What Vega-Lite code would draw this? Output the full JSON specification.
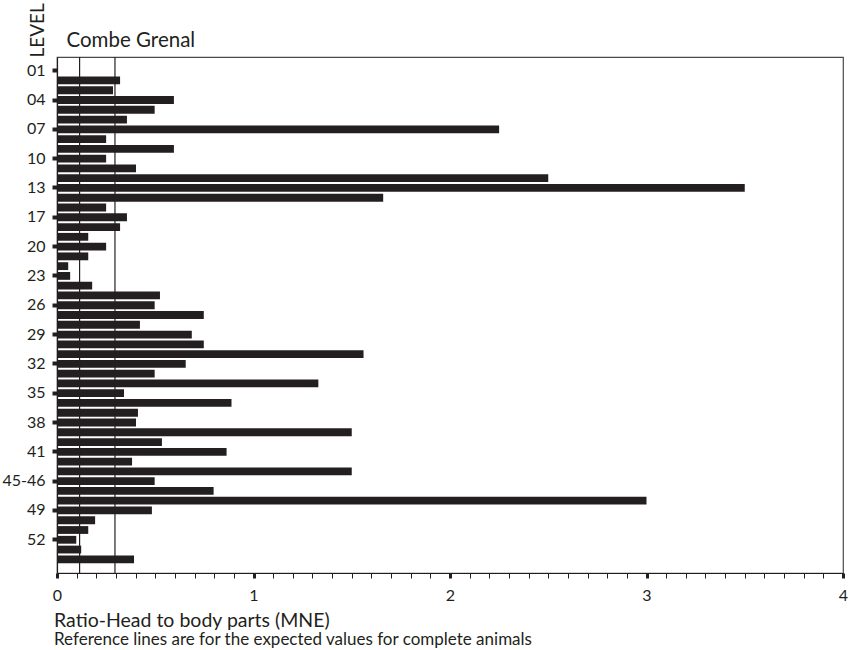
{
  "$schema": "https://vega.github.io/schema/vega-lite/v6.json",
  "width": 786,
  "height": 516,
  "autosize": "none",
  "padding": {"left": 57, "top": 57, "right": 11, "bottom": 77},
  "background": "white",
  "config": {
    "font": "Lato",
    "view": {"stroke": "#4a4a4a", "strokeWidth": 1.2}
  },
  "title": {
    "text": "Ratio-Head to body parts (MNE)",
    "subtitle": "Reference lines are for the expected values for complete animals",
    "orient": "bottom",
    "anchor": "start",
    "frame": "group",
    "fontSize": 19.5,
    "fontWeight": "normal",
    "subtitleFontSize": 17,
    "color": "#231f20",
    "subtitleColor": "#231f20",
    "offset": 9,
    "dx": -3,
    "subtitlePadding": 0
  },
  "datasets": {
    "bars": [
      {"level": "02", "ratio": 0.321},
      {"level": "03", "ratio": 0.285},
      {"level": "04", "ratio": 0.595},
      {"level": "05", "ratio": 0.497},
      {"level": "06", "ratio": 0.356},
      {"level": "07", "ratio": 2.25},
      {"level": "08", "ratio": 0.25},
      {"level": "09", "ratio": 0.595},
      {"level": "10", "ratio": 0.25},
      {"level": "11", "ratio": 0.402},
      {"level": "12", "ratio": 2.5},
      {"level": "13", "ratio": 3.5},
      {"level": "14", "ratio": 1.66},
      {"level": "15-16", "ratio": 0.25},
      {"level": "17", "ratio": 0.356},
      {"level": "18", "ratio": 0.321},
      {"level": "19", "ratio": 0.159},
      {"level": "20", "ratio": 0.25},
      {"level": "21", "ratio": 0.159},
      {"level": "22", "ratio": 0.057},
      {"level": "23", "ratio": 0.067},
      {"level": "24", "ratio": 0.179},
      {"level": "25", "ratio": 0.524},
      {"level": "26", "ratio": 0.497},
      {"level": "27", "ratio": 0.747},
      {"level": "28", "ratio": 0.422},
      {"level": "29", "ratio": 0.686},
      {"level": "30", "ratio": 0.747},
      {"level": "31", "ratio": 1.56},
      {"level": "32", "ratio": 0.655},
      {"level": "33", "ratio": 0.497},
      {"level": "34", "ratio": 1.33},
      {"level": "35", "ratio": 0.341},
      {"level": "36", "ratio": 0.888},
      {"level": "37", "ratio": 0.412},
      {"level": "38", "ratio": 0.402},
      {"level": "39", "ratio": 1.5},
      {"level": "40", "ratio": 0.534},
      {"level": "41", "ratio": 0.863},
      {"level": "42", "ratio": 0.382},
      {"level": "43-44", "ratio": 1.5},
      {"level": "45-46", "ratio": 0.497},
      {"level": "47", "ratio": 0.797},
      {"level": "48", "ratio": 3.0},
      {"level": "49", "ratio": 0.483},
      {"level": "50", "ratio": 0.194},
      {"level": "51", "ratio": 0.159},
      {"level": "52", "ratio": 0.098},
      {"level": "53", "ratio": 0.123},
      {"level": "54", "ratio": 0.392}
    ],
    "refs": [
      {"expected": 0.115},
      {"expected": 0.295}
    ]
  },
  "layer": [
    {
      "data": {"name": "bars"},
      "mark": {"type": "bar", "color": "#231f20"},
      "encoding": {
        "y": {
          "field": "level",
          "type": "ordinal",
          "scale": {
            "domain": ["01","02","03","04","05","06","07","08","09","10","11","12","13","14","15-16","17","18","19","20","21","22","23","24","25","26","27","28","29","30","31","32","33","34","35","36","37","38","39","40","41","42","43-44","45-46","47","48","49","50","51","52","53","54"],
            "paddingInner": 0.2,
            "paddingOuter": 1.42
          },
          "axis": {
            "values": ["01","04","07","10","13","17","20","23","26","29","32","35","38","41","45-46","49","52"],
            "domain": true,
            "domainColor": "#231f20",
            "domainWidth": 1.2,
            "ticks": true,
            "tickSize": 5,
            "tickWidth": 4,
            "tickColor": "#231f20",
            "labelFontSize": 16,
            "labelColor": "#231f20",
            "labelPadding": 7,
            "grid": false,
            "title": "LEVEL",
            "titleFontSize": 19,
            "titleFontWeight": "normal",
            "titleColor": "#231f20",
            "titleAngle": 270,
            "titleX": -14,
            "titleY": 0,
            "titleAlign": "left",
            "titleBaseline": "alphabetic"
          }
        },
        "x": {
          "field": "ratio",
          "type": "quantitative",
          "scale": {"domain": [0, 4], "nice": false},
          "axis": {
            "orient": "bottom",
            "values": [0,0.1,0.2,0.3,0.4,0.5,0.6,0.7,0.8,0.9,1,1.1,1.2,1.3,1.4,1.5,1.6,1.7,1.8,1.9,2,2.1,2.2,2.3,2.4,2.5,2.6,2.7,2.8,2.9,3,3.1,3.2,3.3,3.4,3.5,3.6,3.7,3.8,3.9,4],
            "tickCount": 100,
            "labelExpr": "datum.value % 1 === 0 ? format(datum.value, 'd') : ''",
            "tickSize": 5,
            "tickWidth": {"condition": {"test": "datum.value % 1 === 0", "value": 3}, "value": 1},
            "tickColor": "#231f20",
            "domainColor": "#231f20",
            "domainWidth": 1.2,
            "labelFontSize": 16,
            "labelColor": "#231f20",
            "labelPadding": 9,
            "labelFlush": false,
            "labelOverlap": false,
            "grid": false,
            "title": null
          }
        }
      }
    },
    {
      "data": {"name": "refs"},
      "mark": {"type": "rule", "color": "#231f20", "strokeWidth": 1.2},
      "encoding": {
        "x": {
          "field": "expected",
          "type": "quantitative",
          "axis": {
            "orient": "top",
            "domain": false,
            "ticks": false,
            "labels": false,
            "grid": false,
            "title": "Combe Grenal",
            "titleFontSize": 20.5,
            "titleFontWeight": "normal",
            "titleColor": "#231f20",
            "titleX": 9,
            "titleY": -11,
            "titleAlign": "left",
            "titleBaseline": "alphabetic"
          }
        }
      }
    }
  ],
  "resolve": {"axis": {"x": "independent"}}
}
